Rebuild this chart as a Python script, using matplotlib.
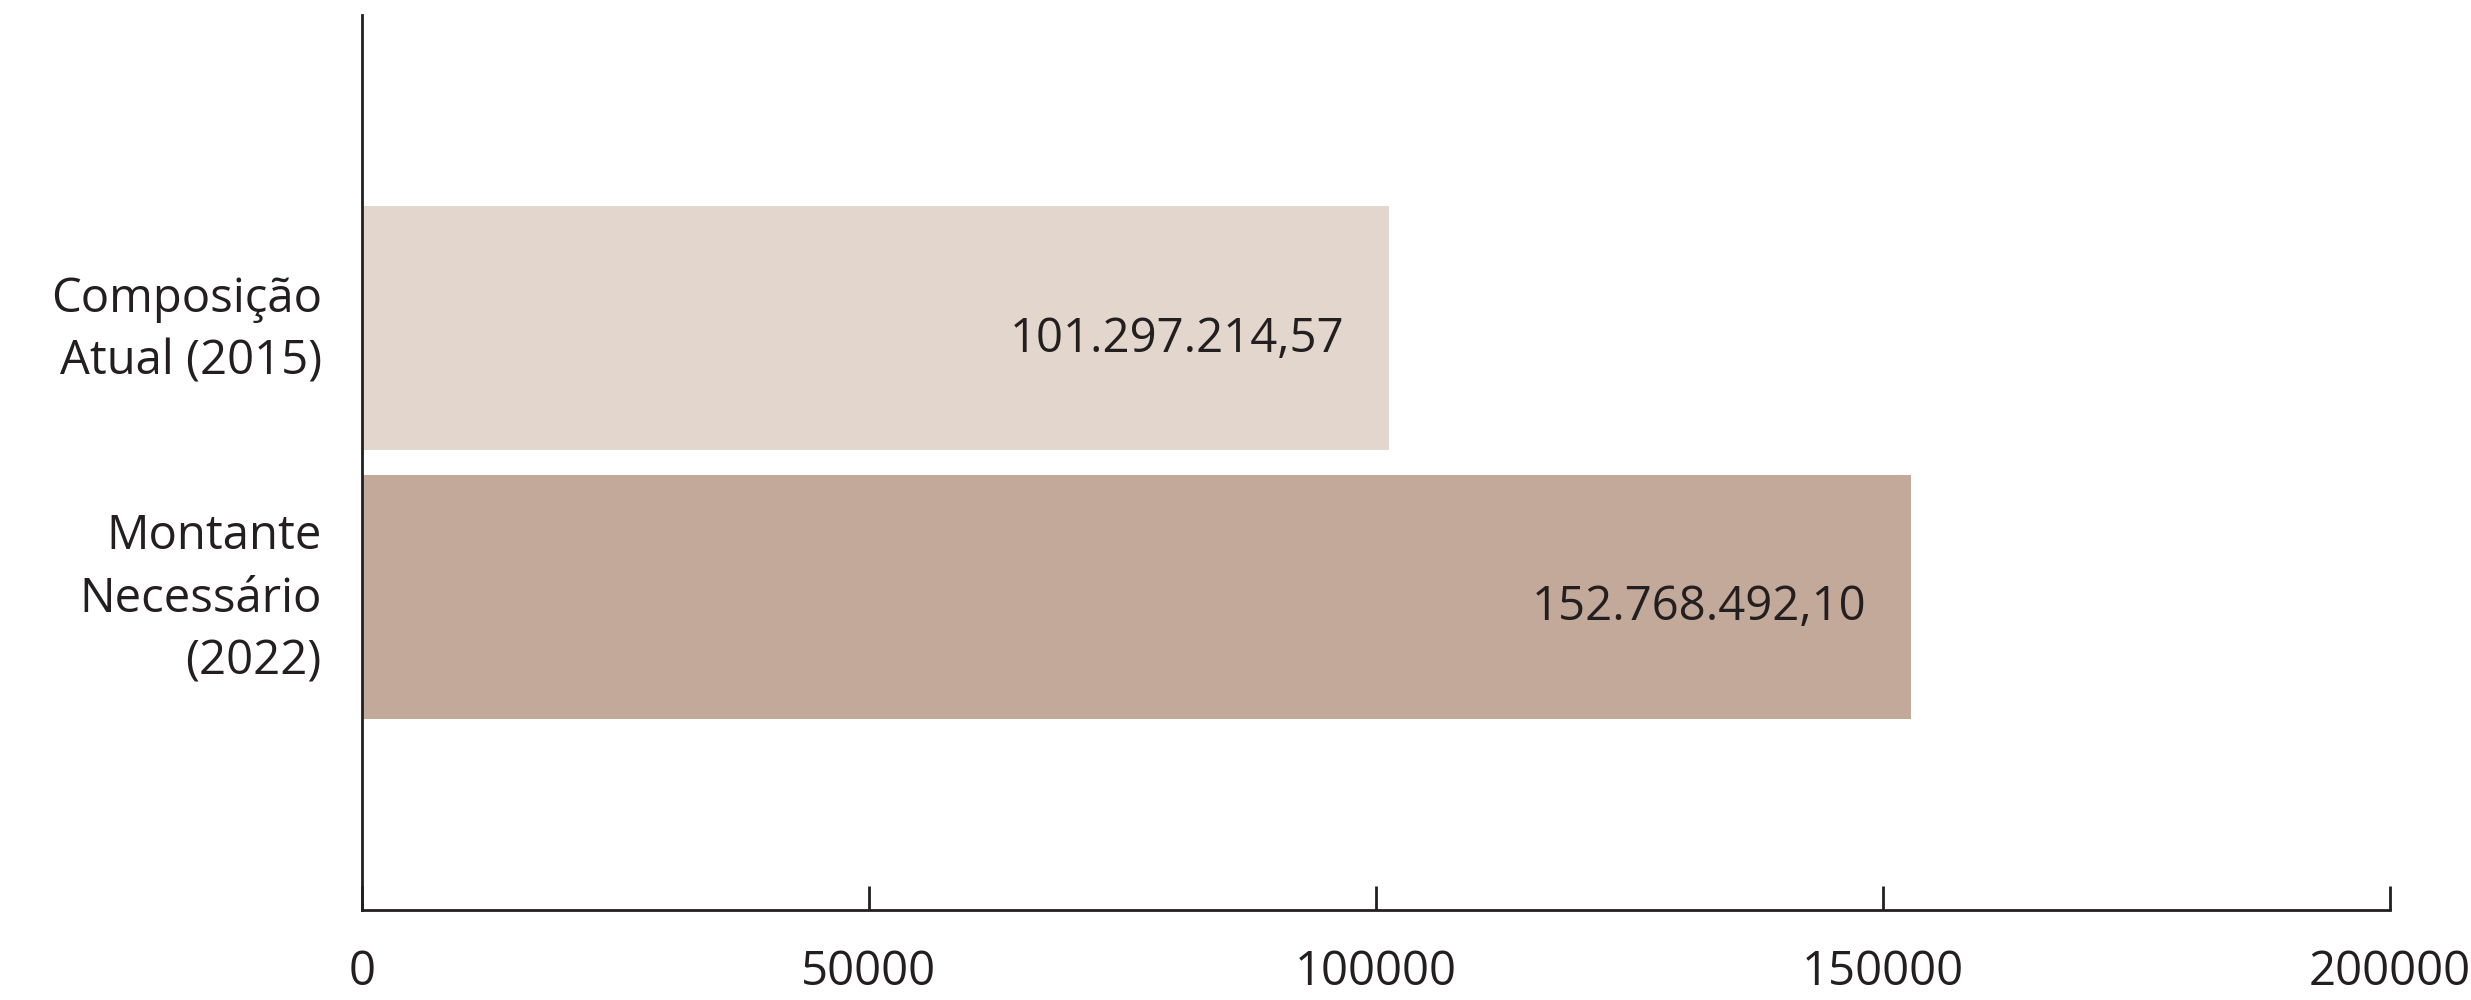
import numpy as np
import matplotlib.pyplot as plt
import matplotlib.transforms as mtransforms
plt.switch_backend('agg')

# values in thousands of R$
categories = ['Composição\nAtual (2015)', 'Montante\nNecessário\n(2022)']
values = [101297.21457, 152768.49210]
value_labels = ['101.297.214,57', '152.768.492,10']
bar_colors = ['#E2D6CD', '#C3A999']
xticks = [0, 50000, 100000, 150000, 200000]

ink = '#231F20'
plt.rcParams['font.family'] = ['Open Sans', 'DejaVu Sans']

fig = plt.figure(figsize=(24.71, 10), dpi=100)
ax = fig.add_axes([0.1465, 0.09, 0.8207, 0.895])

pos = np.arange(len(categories))
ax.barh(pos, values, height=0.905, color=bar_colors)

for p, v, lab in zip(pos, values, value_labels):
    ax.text(v - 4400, p + 0.04, lab, ha='right', va='center',
            fontsize=34, color=ink)

ax.set_xlim(0, 200000)
ax.set_ylim(2.165, -1.165)
ax.set_xticks(xticks)
ax.set_xticklabels([str(t) for t in xticks])
ax.set_yticks(pos)
ax.set_yticklabels(categories, ha='right', multialignment='right', linespacing=1.42)

ax.tick_params(axis='x', direction='in', length=17, width=2, color=ink,
               labelsize=34, labelcolor=ink, pad=28)
ax.tick_params(axis='y', length=0, labelsize=34, labelcolor=ink, pad=29)

# nudge category labels up a bit
shift = mtransforms.ScaledTranslation(0, 8 / 72, fig.dpi_scale_trans)
for lbl in ax.get_yticklabels():
    lbl.set_transform(lbl.get_transform() + shift)

for side in ['top', 'right']:
    ax.spines[side].set_visible(False)
for side in ['left', 'bottom']:
    ax.spines[side].set_linewidth(2)
    ax.spines[side].set_color(ink)

plt.savefig('out.png', dpi=100)
plt.close('all')
